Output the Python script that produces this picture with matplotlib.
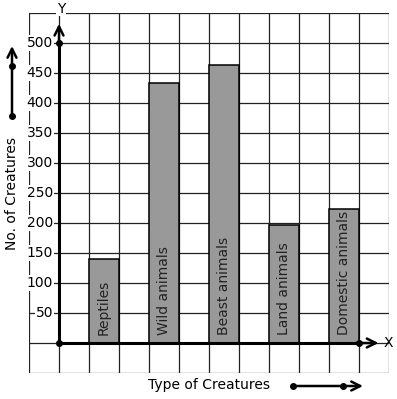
import matplotlib
matplotlib.use("Agg")
import matplotlib.pyplot as plt

categories = ["Reptiles", "Wild animals", "Beast animals", "Land animals", "Domestic animals"]
values = [140, 433, 463, 197, 223]
positions = [1, 3, 5, 7, 9]
yticks = [50, 100, 150, 200, 250, 300, 350, 400, 450, 500]

W, H = 397, 399
fig = plt.figure(figsize=(W / 100, H / 100), dpi=100)
ax = fig.add_axes([29 / W, (H - 373) / H, 360 / W, 360 / H])
ax.set_xlim(-1, 11)
ax.set_ylim(-50, 550)
for s in ax.spines.values():
    s.set_visible(False)
ax.set_xticks([])
ax.set_yticks([])

# grid
for gx in range(-1, 12):
    ax.axvline(gx, color="#222222", lw=0.9, zorder=1)
for gy in range(-50, 551, 50):
    ax.axhline(gy, color="#222222", lw=0.9, zorder=1)

# bars
ax.bar(positions, values, width=1.0, align="edge", color="#999999",
       edgecolor="black", linewidth=1.1, zorder=3)
for p, v, c in zip(positions, values, categories):
    ax.text(p + 0.5, 14, c, rotation=90, ha="center", va="bottom",
            fontsize=10, color="#222222", zorder=4)

# y tick labels
for t in yticks:
    ax.text(-0.2, t, str(t), ha="right", va="center", fontsize=10, zorder=4,
            bbox=dict(facecolor="white", edgecolor="none", pad=0.6))

# axes
ax.plot([0, 10], [0, 0], color="black", lw=2.2, zorder=5, solid_capstyle="butt")
ax.plot([0, 0], [0, 500], color="black", lw=2.2, zorder=5, solid_capstyle="butt")
ax.annotate("", xy=(10.65, 0), xytext=(9.9, 0),
            arrowprops=dict(arrowstyle="->", lw=1.8, color="black",
                            mutation_scale=16, shrinkA=0, shrinkB=0), zorder=5)
ax.annotate("", xy=(0, 532), xytext=(0, 495),
            arrowprops=dict(arrowstyle="->", lw=1.8, color="black",
                            mutation_scale=16, shrinkA=0, shrinkB=0), zorder=5)
ax.plot([0, 0, 10], [0, 500, 0], "o", color="black", ms=4, zorder=6)

ax.text(10.97, 0, "X", ha="center", va="center", fontsize=10, zorder=6)
ax.text(0.07, 557, "Y", ha="center", va="center", fontsize=10, zorder=6,
        bbox=dict(facecolor="white", edgecolor="none", pad=0.5), clip_on=False)

# axis titles
fig.text(12 / W, 1 - 194 / H, "No. of Creatures", rotation=90, ha="center",
         va="center", fontsize=10)
fig.text(209 / W, 1 - 385 / H, "Type of Creatures", ha="center", va="center",
         fontsize=10)

# decorative arrows
fig.add_artist(matplotlib.patches.FancyArrowPatch(
    (12 / W, 1 - 116 / H), (12 / W, 1 - 46 / H), transform=fig.transFigure,
    arrowstyle="->", lw=1.8, color="black", mutation_scale=16, shrinkA=0, shrinkB=0))
fig.add_artist(matplotlib.lines.Line2D([12 / W, 12 / W], [1 - 116 / H, 1 - 66 / H],
    transform=fig.transFigure, marker="o", ms=4, lw=0, color="black"))
fig.add_artist(matplotlib.patches.FancyArrowPatch(
    (293 / W, 1 - 386 / H), (363 / W, 1 - 386 / H), transform=fig.transFigure,
    arrowstyle="->", lw=1.8, color="black", mutation_scale=16, shrinkA=0, shrinkB=0))
fig.add_artist(matplotlib.lines.Line2D([293 / W, 343 / W], [1 - 386 / H, 1 - 386 / H],
    transform=fig.transFigure, marker="o", ms=4, lw=0, color="black"))

fig.savefig("out.png", dpi=100, facecolor="white")
